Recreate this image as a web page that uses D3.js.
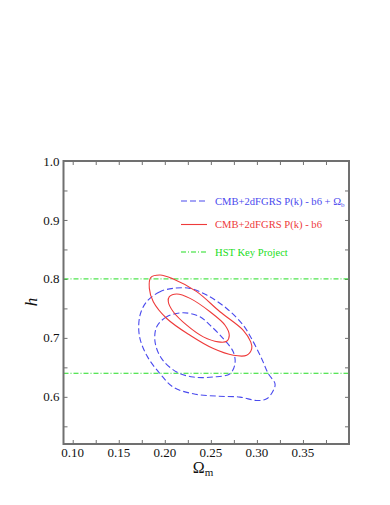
<!DOCTYPE html>
<meta charset="utf-8">
<style>
    body { margin: 0; background: #fff; }
    text { font-family: "Liberation Serif", "Times New Roman", Times, "DejaVu Serif", serif; }
    .frame { fill: none; stroke: #707070; stroke-width: 2px; }
    .tick line { stroke: #707070; stroke-width: 1px; }
</style>
<body>
<script src="https://d3js.org/d3.v7.min.js"></script>
<script>
    // contour outlines, [Omega_m, h]
    var redOuter = [[0.1847,0.8022],[0.1948,0.8066],[0.2092,0.7998],[0.2346,0.7784],[0.2599,0.7443],
        [0.2852,0.7129],[0.2933,0.6932],[0.2944,0.6818],[0.2889,0.6704],[0.2744,0.6704],[0.2527,0.6818],
        [0.2274,0.7044],[0.2021,0.7329],[0.1875,0.7613],[0.1832,0.7840]];
    var redInner = [[0.2049,0.7698],[0.2129,0.7743],[0.2274,0.7670],[0.2491,0.7443],[0.2654,0.7215],
        [0.2700,0.7044],[0.2672,0.6942],[0.2581,0.6932],[0.2418,0.7017],[0.2238,0.7215],[0.2092,0.7443],
        [0.2038,0.7613]];
    var blueOuter = [[0.2092,0.7840],[0.1948,0.7784],[0.1803,0.7613],[0.1731,0.7385],[0.1723,0.7044],
        [0.1803,0.6704],[0.1948,0.6392],[0.2092,0.6165],[0.2309,0.6051],[0.2564,0.6012],[0.2817,0.5995],
        [0.2998,0.5937],[0.3106,0.5966],[0.3178,0.6107],[0.3197,0.6221],[0.3124,0.6392],[0.3052,0.6647],
        [0.2961,0.6932],[0.2852,0.7215],[0.2672,0.7499],[0.2455,0.7726],[0.2274,0.7840]];
    var blueInner = [[0.2201,0.7426],[0.2021,0.7358],[0.1912,0.7187],[0.1894,0.6932],[0.1966,0.6647],
        [0.2129,0.6421],[0.2309,0.6336],[0.2527,0.6336],[0.2708,0.6392],[0.2762,0.6562],[0.2744,0.6761],
        [0.2635,0.6988],[0.2491,0.7215],[0.2382,0.7358]];
    var hstLines = [0.64, 0.80];

    var xTicks = [0.10, 0.15, 0.20, 0.25, 0.30, 0.35];
    var yTicks = [0.6, 0.7, 0.8, 0.9, 1.0];

    var legendLabels = ["CMB+2dFGRS P(k) - b6 + Ω", "CMB+2dFGRS P(k) - b6", "HST Key Project"];

    var width = 390, height = 505;
    var m = {left: 63.5, right: 41, top: 161, bottom: 61};
    var blue = "#4a4aee", red = "#ee3a3a", green = "#22dd22";
    var serif = "'Liberation Serif', 'Times New Roman', serif";

    var svg = d3.select("body").append("svg")
        .attr("width", width).attr("height", height)
        .attr("font-family", serif);

    var x = d3.scaleLinear().domain([0.09, 0.40]).range([m.left, width - m.right]);
    var y = d3.scaleLinear().domain([0.52, 1.0]).range([height - m.bottom, m.top]);

    var minorX = d3.range(0.10, 0.40, 0.025), minorY = d3.range(0.55, 1.0, 0.05);

    // inward ticks on all four sides
    function axes(g, axis) { g.call(axis); g.select(".domain").remove(); }
    svg.append("g").attr("transform", "translate(0," + y.range()[0] + ")")
        .call(axes, d3.axisBottom(x).tickValues(minorX).tickSize(-4).tickFormat(""));
    svg.append("g").attr("transform", "translate(0," + y.range()[1] + ")")
        .call(axes, d3.axisTop(x).tickValues(minorX).tickSize(-4).tickFormat(""));
    svg.append("g").attr("transform", "translate(" + x.range()[0] + ",0)")
        .call(axes, d3.axisLeft(y).tickValues(minorY).tickSize(-4).tickFormat(""));
    svg.append("g").attr("transform", "translate(" + x.range()[1] + ",0)")
        .call(axes, d3.axisRight(y).tickValues(minorY).tickSize(-4).tickFormat(""));

    svg.append("g").selectAll("text").data(xTicks).join("text")
        .attr("x", d => x(d)).attr("y", y.range()[0] + 13)
        .attr("text-anchor", "middle").attr("font-size", 13).attr("fill", "#111")
        .text(d => d3.format(".2f")(d));
    svg.append("g").selectAll("text").data(yTicks).join("text")
        .attr("x", x.range()[0] - 4).attr("y", d => y(d))
        .attr("dy", "0.35em").attr("text-anchor", "end").attr("font-size", 13).attr("fill", "#111")
        .text(d => d3.format(".1f")(d));

    var plot = svg.append("g");
    var line = d3.line().x(d => x(d[0])).y(d => y(d[1])).curve(d3.curveCatmullRomClosed.alpha(0.5));

    plot.selectAll(".hst").data(hstLines).join("line")
        .attr("x1", x.range()[0]).attr("x2", x.range()[1])
        .attr("y1", d => y(d)).attr("y2", d => y(d))
        .attr("stroke", green).attr("stroke-width", 1).attr("stroke-dasharray", "5,2,1,2");

    [blueOuter, blueInner].forEach(function(c) {
        plot.append("path").attr("d", line(c)).attr("fill", "none")
            .attr("stroke", blue).attr("stroke-width", 1.1).attr("stroke-dasharray", "6,3");
    });
    [redOuter, redInner].forEach(function(c) {
        plot.append("path").attr("d", line(c)).attr("fill", "none")
            .attr("stroke", red).attr("stroke-width", 1.1);
    });

    svg.append("rect").attr("class", "frame")
        .attr("x", x.range()[0]).attr("y", y.range()[1])
        .attr("width", x.range()[1] - x.range()[0]).attr("height", y.range()[0] - y.range()[1]);

    // legend
    var legY = [201, 224.5, 252], legCol = [blue, red, green], legDash = ["6,3", null, "5,2,1,2"];
    var leg = svg.append("g").selectAll("g").data(legendLabels).join("g")
        .attr("transform", (d, i) => "translate(0," + legY[i] + ")");
    leg.append("line").attr("x1", 181).attr("x2", 207)
        .attr("stroke", (d, i) => legCol[i]).attr("stroke-width", 1.1)
        .attr("stroke-dasharray", (d, i) => legDash[i]);
    var lt = leg.append("text").attr("x", 215).attr("dy", "0.35em").attr("font-size", 10.6)
        .attr("fill", (d, i) => legCol[i]).text(d => d);
    lt.filter((d, i) => i === 0).append("tspan").attr("font-size", 7).attr("dy", 2.5).text("b");

    // axis labels
    svg.append("text").attr("transform", "translate(37,302) rotate(-90)")
        .attr("text-anchor", "middle").attr("font-size", 17).attr("font-style", "italic")
        .attr("fill", "#111").text("h");
    var xl = svg.append("text").attr("x", 203).attr("y", 473).attr("text-anchor", "middle")
        .attr("font-size", 16).attr("fill", "#111");
    xl.append("tspan").text("Ω");
    xl.append("tspan").attr("font-size", 11).attr("dy", 3).text("m");
</script>
</body>
